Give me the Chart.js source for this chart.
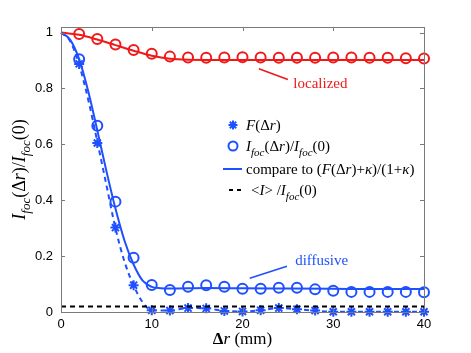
<!DOCTYPE html>
<html>
<head>
<meta charset="utf-8">
<script src="https://cdn.jsdelivr.net/npm/chart.js@4.4.1/dist/chart.umd.min.js"></script>
<style>
html,body{margin:0;padding:0;background:#fff;}
canvas{display:block;}
</style>
</head>
<body>
<canvas id="c" width="471" height="353"></canvas>
<script>
// ---- data ----
const xSamples = [2,4,6,8,10,12,14,16,18,20,22,24,26,28,30,32,34,36,38,40];
const fValues = [0.888,0.605,0.302,0.096,0.006,0.005,0.014,0.013,0.004,0.002,0.006,0.014,0.010,0.005,0.001,0.001,0.001,0.001,0.001,0.001];
const ifocDiffusive = [0.905,0.667,0.395,0.194,0.097,0.079,0.090,0.096,0.090,0.083,0.083,0.087,0.087,0.081,0.076,0.072,0.072,0.072,0.072,0.071];
const ifocLocalized = [0.995,0.977,0.957,0.938,0.924,0.914,0.911,0.910,0.911,0.912,0.911,0.910,0.910,0.910,0.911,0.911,0.910,0.910,0.908,0.907];

const fitDiffX = [0,1,2,3,4,5,6,7,8,9,10,11,12,16,20,25,30,35,40];
const fitDiffY = [1,0.975,0.905,0.79,0.65,0.505,0.37,0.255,0.17,0.112,0.09,0.085,0.084,0.086,0.085,0.084,0.083,0.082,0.082];

const fFitX = [0,1,2,3,4,5,6,7,8,9,10,12,14,16,18,20,22,24,26,28,30,32,34,36,38,40];
const fFitY = [1,0.97,0.885,0.76,0.61,0.455,0.30,0.18,0.095,0.035,0.006,0.005,0.014,0.013,0.004,0.002,0.006,0.014,0.010,0.005,0.001,0.001,0.001,0.001,0.001,0.001];

const fitLocX = [0,2,4,6,8,10,12,14,20,30,40];
const fitLocY = [1,0.992,0.975,0.955,0.935,0.917,0.906,0.903,0.902,0.902,0.902];

const meanX = [0,40];
const meanY = [0.02,0.02];

const xTicks = [0,10,20,30,40];
const yTicks = [0,0.2,0.4,0.6,0.8,1];
const yTickLabels = ['0','0.2','0.4','0.6','0.8','1'];

const BLUE = 'rgb(30,80,255)';
const RED = 'rgb(240,25,25)';

const pts = (xs, ys) => xs.map((x,i)=>({x:x, y:ys[i]}));

// rich text helper
function drawRich(ctx, x, y, segs, size, color, align){
  const serif = '"Liberation Serif","Times New Roman",serif';
  const fontFor = s => (s.it?'italic ':'') + (s.b?'bold ':'') + Math.round(s.sub? size*0.72 : size) + 'px ' + serif;
  let w = 0;
  segs.forEach(s=>{ctx.font = fontFor(s); w += ctx.measureText(s.t).width;});
  let cx = align==='center' ? x - w/2 : x;
  ctx.fillStyle = color;
  ctx.textBaseline = 'alphabetic';
  ctx.textAlign = 'left';
  segs.forEach(s=>{
    ctx.font = fontFor(s);
    ctx.fillText(s.t, cx, y + (s.sub? size*0.3 : 0));
    cx += ctx.measureText(s.t).width;
  });
  return w;
}

const ifocSegs = [{t:'I',it:1},{t:'foc',it:1,sub:1},{t:'(Δ'},{t:'r',it:1},{t:')/'},{t:'I',it:1},{t:'foc',it:1,sub:1},{t:'(0)'}];

const decor = {
  id:'decor',
  afterDraw(chart){
    const ctx = chart.ctx, a = chart.chartArea, xs = chart.scales.x, ys = chart.scales.y;
    ctx.save();
    // box
    ctx.strokeStyle = '#7a7a7a';
    ctx.lineWidth = 1;
    ctx.strokeRect(Math.round(a.left)+0.5, Math.round(a.top)+0.5, Math.round(a.right-a.left), Math.round(a.bottom-a.top));
    // ticks inward
    const tl = 4;
    ctx.beginPath();
    xTicks.forEach(v=>{
      const px = Math.round(xs.getPixelForValue(v))+0.5;
      ctx.moveTo(px, a.bottom); ctx.lineTo(px, a.bottom-tl);
      ctx.moveTo(px, a.top); ctx.lineTo(px, a.top+tl);
    });
    yTicks.forEach(v=>{
      const py = Math.round(ys.getPixelForValue(v))+0.5;
      ctx.moveTo(a.left, py); ctx.lineTo(a.left+tl, py);
      ctx.moveTo(a.right, py); ctx.lineTo(a.right-tl, py);
    });
    ctx.stroke();

    // annotations
    const P = (x,y)=>[xs.getPixelForValue(x), ys.getPixelForValue(y)];
    ctx.lineWidth = 1.6;
    ctx.strokeStyle = RED;
    let p1 = P(21.8,0.871), p2 = P(25.0,0.832);
    ctx.beginPath(); ctx.moveTo(p1[0],p1[1]); ctx.lineTo(p2[0],p2[1]); ctx.stroke();
    let t = P(25.6,0.818);
    drawRich(ctx, t[0], t[1]+5, [{t:'localized'}], 15, RED);
    ctx.strokeStyle = BLUE;
    p1 = P(20.8,0.121); p2 = P(24.9,0.164);
    ctx.beginPath(); ctx.moveTo(p1[0],p1[1]); ctx.lineTo(p2[0],p2[1]); ctx.stroke();
    t = P(25.8,0.186);
    drawRich(ctx, t[0], t[1]+5, [{t:'diffusive'}], 15, BLUE);

    // legend
    const lx = 233, tx = 246, rows = [125,146,169,190];
    ctx.strokeStyle = BLUE; ctx.lineWidth = 2;
    const r = 4.5;
    ctx.beginPath();
    for (let k=0;k<4;k++){ const ang = k*Math.PI/4; ctx.moveTo(lx-r*Math.cos(ang), rows[0]-r*Math.sin(ang)); ctx.lineTo(lx+r*Math.cos(ang), rows[0]+r*Math.sin(ang)); }
    ctx.stroke();
    drawRich(ctx, tx, rows[0]+5, [{t:'F',it:1},{t:'(Δ'},{t:'r',it:1},{t:')'}], 15, '#000');
    ctx.lineWidth = 2;
    ctx.beginPath(); ctx.arc(lx, rows[1], 4.5, 0, Math.PI*2); ctx.stroke();
    drawRich(ctx, tx, rows[1]+5, ifocSegs, 15, '#000');
    ctx.beginPath(); ctx.moveTo(223, rows[2]); ctx.lineTo(242, rows[2]); ctx.stroke();
    drawRich(ctx, tx, rows[2]+5, [{t:'compare to ('},{t:'F',it:1},{t:'(Δ'},{t:'r',it:1},{t:')+'},{t:'κ',it:1},{t:')/(1+'},{t:'κ',it:1},{t:')'}], 15, '#000');
    ctx.strokeStyle = '#000';
    ctx.setLineDash([4,4]);
    ctx.beginPath(); ctx.moveTo(229, rows[3]); ctx.lineTo(245, rows[3]); ctx.stroke();
    ctx.setLineDash([]);
    drawRich(ctx, tx+5, rows[3]+5, [{t:'<'},{t:'I',it:1},{t:'> /'},{t:'I',it:1},{t:'foc',it:1,sub:1},{t:'(0)'}], 15, '#000');

    // axis titles
    drawRich(ctx, (a.left+a.right)/2, 344, [{t:'Δ',b:1},{t:'r',it:1},{t:' (mm)'}], 17, '#000', 'center');
    ctx.translate(25, (a.top+a.bottom)/2);
    ctx.rotate(-Math.PI/2);
    drawRich(ctx, 0, 0, ifocSegs, 18, '#000', 'center');
    ctx.restore();
  }
};

new Chart(document.getElementById('c'), {
  type: 'scatter',
  data: {
    datasets: [
      {data: pts(meanX, meanY), showLine:true, borderColor:'#000', borderWidth:2, borderDash:[5,4], pointRadius:0, clip:false},
      {data: pts(fitLocX, fitLocY), showLine:true, borderColor:RED, borderWidth:2, pointRadius:0, cubicInterpolationMode:'monotone', clip:false},
      {data: pts(fitDiffX, fitDiffY), showLine:true, borderColor:BLUE, borderWidth:2, pointRadius:0, cubicInterpolationMode:'monotone', clip:false},
      {data: pts(fFitX, fFitY), showLine:true, borderColor:BLUE, borderWidth:2, borderDash:[5,4], pointRadius:0, cubicInterpolationMode:'monotone', clip:false},
      {data: pts(xSamples, ifocLocalized), showLine:false, pointStyle:'circle', pointRadius:5, borderColor:RED, borderWidth:2, backgroundColor:'rgba(0,0,0,0)', clip:false},
      {data: pts(xSamples, ifocDiffusive), showLine:false, pointStyle:'circle', pointRadius:5, borderColor:BLUE, borderWidth:2, backgroundColor:'rgba(0,0,0,0)', clip:false},
      {data: pts(xSamples, fValues), showLine:false, pointStyle:'star', pointRadius:5, borderColor:BLUE, borderWidth:2, backgroundColor:BLUE, clip:false}
    ]
  },
  options: {
    responsive:false, animation:false, devicePixelRatio:1,
    layout:{padding:{top:27,right:47,left:0,bottom:0}},
    plugins:{legend:{display:false}, tooltip:{enabled:false}},
    elements:{point:{hoverRadius:5}},
    scales:{
      x:{type:'linear', min:0, max:40,
        afterBuildTicks: s => { s.ticks = xTicks.map(v=>({value:v})); },
        afterFit: s => { s.height = 41; },
        grid:{display:false, drawTicks:false}, border:{display:false},
        ticks:{padding:5, color:'#000', font:{family:'"Liberation Sans",Arial,sans-serif', size:13}}
      },
      y:{type:'linear', min:0, max:1.02,
        afterBuildTicks: s => { s.ticks = yTicks.map(v=>({value:v})); },
        afterFit: s => { s.width = 61; },
        grid:{display:false, drawTicks:false}, border:{display:false},
        ticks:{padding:8, color:'#000', font:{family:'"Liberation Sans",Arial,sans-serif', size:13},
          callback: (v, i) => yTickLabels[yTicks.indexOf(+v.toFixed(1))] }
      }
    }
  },
  plugins:[decor]
});
</script>
</body>
</html>
